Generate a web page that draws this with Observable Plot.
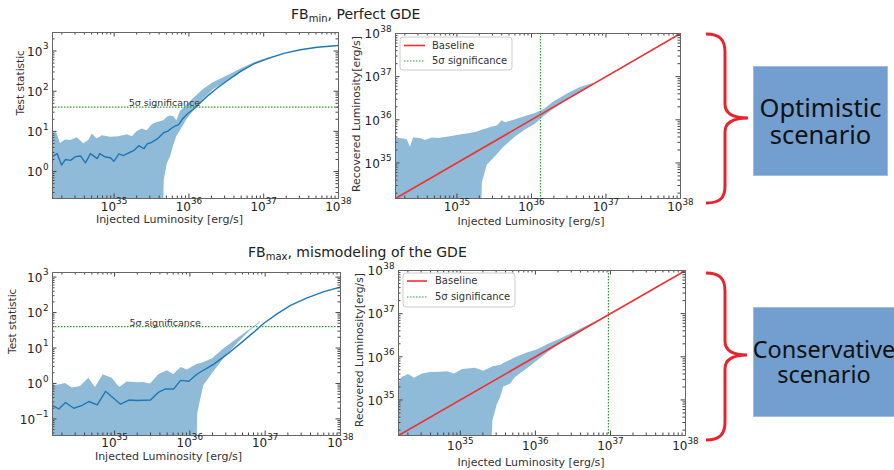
<!DOCTYPE html>
<html><head><meta charset="utf-8">
<script src="https://cdn.jsdelivr.net/npm/d3@7"></script>
<script src="https://cdn.jsdelivr.net/npm/@observablehq/plot@0.6"></script>
<style>
body{margin:0;background:#fff;}
#wrap{position:relative;width:894px;height:470px;overflow:hidden;font-family:"DejaVu Sans",sans-serif;color:#222;}
.panel{position:absolute;}
.title{position:absolute;font-size:14px;line-height:16px;white-space:nowrap;color:#222;}
.title sub{font-size:10px;vertical-align:-3px;line-height:0;}
.box{position:absolute;background:#729fcf;border:1px solid #9ebde2;box-sizing:border-box;display:flex;align-items:center;justify-content:center;text-align:center;font-family:"Noto Sans",sans-serif;line-height:26px;color:#111;white-space:nowrap;}
#overlay{position:absolute;left:0;top:0;}
</style></head>
<body><div id="wrap">
<div class="title" style="left:291px;top:6px">FB<sub>min</sub>, Perfect GDE</div>
<div class="title" style="left:248px;top:244px">FB<sub>max</sub>, mismodeling of the GDE</div>
<div id="p1" class="panel" style="left:0;top:25px"></div>
<div id="p2" class="panel" style="left:345px;top:25px"></div>
<div id="p3" class="panel" style="left:0;top:262px"></div>
<div id="p4" class="panel" style="left:345px;top:262px"></div>
<svg id="overlay" width="894" height="470" font-family="DejaVu Sans" font-size="10">
  <path d="M706,34 C720,34 725,40 725,52 L725,104 C725,114 733,118 748,118 C733,118 725,122 725,132 L725,186 C725,198 720,203 706,203" fill="none" stroke="#e8232b" stroke-width="3"/>
  <path d="M706,273 C720,273 725,279 725,291 L725,341 C725,351 733,355 747,355 C733,355 725,359 725,369 L725,422 C725,434 720,440 706,440" fill="none" stroke="#e8232b" stroke-width="3"/>
  <text id="ylab2" transform="translate(357,114) rotate(-90)" text-anchor="middle" dominant-baseline="middle" font-size="10.8" fill="#333" textLength="156" lengthAdjust="spacingAndGlyphs"></text>
  <text id="ylab4" transform="translate(360,350) rotate(-90)" text-anchor="middle" dominant-baseline="middle" font-size="10.8" fill="#333" textLength="154" lengthAdjust="spacingAndGlyphs"></text>
  <g>
    <rect x="400" y="37" width="112" height="33" rx="3" fill="#fff" stroke="#ccc"/>
    <line x1="404" x2="425" y1="45.5" y2="45.5" stroke="#f03030" stroke-width="1.6"/>
    <text x="432" y="45.5" dominant-baseline="middle" fill="#333">Baseline</text>
    <line x1="404" x2="425" y1="61" y2="61" stroke="#2ca02c" stroke-width="1.2" stroke-dasharray="1.5,1.5"/>
    <text x="432" y="61" dominant-baseline="middle" fill="#333">5σ significance</text>
  </g>
  <g>
    <rect x="403" y="273" width="112" height="34" rx="3" fill="#fff" stroke="#ccc"/>
    <line x1="407" x2="427" y1="281" y2="281" stroke="#f03030" stroke-width="1.6"/>
    <text x="435" y="281" dominant-baseline="middle" fill="#333">Baseline</text>
    <line x1="407" x2="427" y1="297" y2="297" stroke="#2ca02c" stroke-width="1.2" stroke-dasharray="1.5,1.5"/>
    <text x="435" y="297" dominant-baseline="middle" fill="#333">5σ significance</text>
  </g>
</svg>
<div class="box" style="left:753px;top:66px;width:135px;height:110px;font-size:25.5px;line-height:27px">Optimistic<br>scenario</div>
<div class="box" style="left:753px;top:307px;width:142px;height:110px;font-size:23.5px;line-height:25px">Conservative<br>scenario</div>
</div>
<script>
// ---------- shared ----------
const lumDomain = [1.5e34, 1e38];
const lumTicks = [1e35, 1e36, 1e37, 1e38];
const tsTicksTop = [1, 10, 100, 1000];
const tsTicksBottom = [0.1, 1, 10, 100, 1000];
const tsDomainTop = [0.214, 2880];
const tsDomainBottom = [0.034, 1350];
const xLabel = "Injected Luminosity [erg/s]";
const tsLabel = "Test statistic";
const recLabel = "Recovered Luminosity[erg/s]";
const sigLabel = "5σ significance";
const tsThreshold = 40;
const sigLumTop = 1.32e36;
const sigLumBottom = 9.4e36;
const sigTextLum = 4.7e35;

// ---------- panel 1: FBmin test statistic ----------
const p1LineL = [1.5e34, 1.73e34, 1.98e34, 2.24e34, 2.61e34, 3.04e34, 3.55e34, 4.14e34, 4.83e34, 5.94e34, 6.43e34, 7.67e34, 8.95e34, 9.91e34, 1.16e35, 1.33e35, 1.56e35, 1.82e35, 2.14e35, 2.5e35, 2.77e35, 3.16e35, 3.77e35, 4.62e35, 5.17e35, 5.68e35, 6.62e35, 7.26e35, 8.13e35, 9.48e35, 1.16e36, 1.43e36, 1.85e36, 2.39e36, 3.25e36, 4.9e36, 7.38e36, 1.11e37, 1.86e37, 3.1e37, 5.19e37, 1e38];
const p1LineTS = [2.4, 2.8, 1.45, 2.0, 1.9, 2.35, 2.45, 1.65, 2.8, 2.1, 2.8, 2.3, 2.2, 1.8, 2.75, 2.5, 2.9, 3.3, 4.4, 3.7, 4.9, 5.3, 6.5, 9.4, 10, 11.5, 13.8, 14.5, 20, 27, 36, 52, 81, 120, 182, 310, 480, 640, 870, 1075, 1240, 1370];
const p1BandL = [1.5e34, 1.7e34, 1.92e34, 2.24e34, 2.61e34, 3.21e34, 3.93e34, 4.58e34, 5.09e34, 5.94e34, 6.93e34, 8.95e34, 1.16e35, 1.5e35, 1.75e35, 2.04e35, 2.37e35, 2.77e35, 3.23e35, 3.77e35, 4.44e35, 4.68e35, 5.13e35, 5.68e35, 6.28e35, 6.9e35, 7.71e35, 9.48e35, 1.22e36, 1.58e36, 2.15e36, 3.25e36, 4.9e36, 7.38e36, 9.93e36];
const p1BandHi = [8.6, 9.4, 5.0, 6.1, 5.9, 6.9, 4.9, 5.9, 8.6, 6.5, 7.8, 7.1, 7.4, 8.3, 7.4, 10, 11.5, 10.4, 14.7, 16.7, 17.8, 19, 22, 24, 23, 18.5, 31, 46, 72, 112, 165, 240, 350, 500, 610];
const p1BandLo = [0.01, 0.01, 0.01, 0.01, 0.01, 0.01, 0.01, 0.01, 0.01, 0.01, 0.01, 0.01, 0.01, 0.01, 0.01, 0.01, 0.01, 0.01, 0.01, 0.01, 0.01, 0.6, 1.55, 2.3, 4.5, 7.5, 10.4, 20, 36, 63, 110, 170, 280, 460, 600];

// ---------- panel 2: FBmin recovered luminosity ----------
const p2BandL = [1.5e34, 2.15e34, 2.38e34, 2.62e34, 3.24e34, 3.79e34, 4.66e34, 5.71e34, 7.78e34, 1.01e35, 1.37e35, 1.78e35, 2.07e35, 2.2e35, 2.55e35, 2.98e35, 3.48e35, 4.05e35, 4.49e35, 6.11e35, 8.32e35, 1.13e36, 1.47e36, 2.0e36, 3.0e36, 4.55e36, 6.8e36];
const p2BandHi = [3.8e35, 3.5e35, 2.3e35, 3.8e35, 3.7e35, 3.3e35, 3.8e35, 3.7e35, 4.0e35, 4.3e35, 4.7e35, 5.1e35, 5.5e35, 5.8e35, 6.2e35, 6.8e35, 7.2e35, 9.5e35, 8.5e35, 1.0e36, 1.2e36, 1.4e36, 1.7e36, 2.6e36, 3.9e36, 5.6e36, 7.0e36];
const p2BandLo = [1e33, 1e33, 1e33, 1e33, 1e33, 1e33, 1e33, 1e33, 1e33, 1e33, 1e33, 1e33, 1e33, 3.5e34, 8.9e34, 1.17e35, 1.55e35, 2.1e35, 2.5e35, 4.0e35, 5.8e35, 7.9e35, 1.17e36, 1.78e36, 2.75e36, 4.2e36, 6.8e36];

// ---------- panel 3: FBmax test statistic ----------
const p3LineL = [1.5e34, 1.82e34, 2.23e34, 2.88e34, 3.72e34, 4.55e34, 5.89e34, 7.59e34, 1.2e35, 1.55e35, 2.0e35, 3.0e35, 3.87e35, 4.74e35, 6.12e35, 7.52e35, 9.68e35, 1.25e36, 2.08e36, 3.13e36, 4.7e36, 7.06e36, 9.6e36, 1.44e37, 2.17e37, 3.61e37, 6.02e37, 1e38];
const p3LineTS = [0.24, 0.19, 0.29, 0.2, 0.24, 0.31, 0.25, 0.6, 0.26, 0.34, 0.33, 0.34, 0.57, 0.7, 0.7, 1.22, 1.15, 1.85, 3.5, 6.7, 13.5, 28, 50, 92, 160, 260, 390, 520];
const p3BandL = [1.5e34, 1.82e34, 2.23e34, 2.74e34, 3.53e34, 4.55e34, 5.58e34, 7.06e34, 9.3e34, 1.17e35, 1.47e35, 2.0e35, 2.42e35, 3.0e35, 3.87e35, 5.0e35, 6.12e35, 7.67e35, 9.22e35, 1.21e36, 1.27e36, 1.38e36, 1.53e36, 1.98e36, 2.82e36, 4.25e36, 6.38e36, 8.67e36];
const p3BandHi = [0.86, 0.9, 1.0, 0.74, 0.82, 1.4, 0.77, 1.76, 1.4, 0.77, 1.1, 1.05, 1.07, 0.96, 1.76, 2.3, 1.8, 2.8, 2.4, 3.3, 3.5, 3.6, 3.9, 4.9, 9.4, 18, 34, 55];
const p3BandLo = [0.001, 0.001, 0.001, 0.001, 0.001, 0.001, 0.001, 0.001, 0.001, 0.001, 0.001, 0.001, 0.001, 0.001, 0.001, 0.001, 0.001, 0.001, 0.001, 0.001, 0.137, 0.32, 0.86, 1.85, 4.9, 13, 31, 52];

// ---------- panel 4: FBmax recovered luminosity ----------
const p4BandL = [1.5e34, 1.68e34, 2.04e34, 2.45e34, 3.13e34, 4.0e34, 5.44e34, 6.74e34, 8.36e34, 1.07e35, 1.59e35, 2.06e35, 2.52e35, 2.71e35, 3.1e35, 3.43e35, 3.79e35, 4.66e35, 5.43e35, 6.67e35, 8.17e35, 1.07e36, 1.45e36, 2.16e36, 3.22e36, 4.9e36, 6.7e36];
const p4BandHi = [2.4e35, 3.3e35, 3.9e35, 3.2e35, 4.0e35, 4.3e35, 4.4e35, 4.5e35, 4.0e35, 5.1e35, 5.4e35, 4.6e35, 5.5e35, 5.9e35, 6.1e35, 6.3e35, 7.0e35, 8.3e35, 9.5e35, 1.1e36, 1.25e36, 1.45e36, 1.9e36, 2.6e36, 3.6e36, 5.2e36, 6.8e36];
const p4BandLo = [1e33, 1e33, 1e33, 1e33, 1e33, 1e33, 1e33, 1e33, 1e33, 1e33, 1e33, 1e33, 1e33, 3.2e34, 7.6e34, 1.12e35, 2.0e35, 2.3e35, 3.3e35, 4.3e35, 5.6e35, 8.1e35, 1.23e36, 2.0e36, 2.8e36, 4.6e36, 6.6e36];

// ---------- helpers ----------
const expStr = d => String(Math.round(Math.log10(d))).replace("-", "\u2212");
function minorTicks([lo, hi]) {
  const out = [];
  for (let e = Math.floor(Math.log10(lo)); e <= Math.ceil(Math.log10(hi)); e++)
    for (let k = 2; k <= 9; k++) { const v = k * Math.pow(10, e); if (v >= lo && v <= hi) out.push(v); }
  return out;
}
const zip = (xs, a, b) => xs.map((x, i) => ({x, a: a ? a[i] : undefined, b: b ? b[i] : undefined}));

const bandFill = "#8fbbd9", lineCol = "#1f77b4", green = "#2ca02c", red = "#f03030", tickCol = "#444", labCol = "#222";
const baseSize = 12, expSize = 8.8;
const expWidth = s => [...s].reduce((w, c) => w + (c === "\u2212" ? 0.838 : 0.636) * expSize, 0);

document.getElementById("ylab2").textContent = recLabel;
document.getElementById("ylab4").textContent = recLabel;

function panel(cfg) {
  const {width, height, m, yDomain, yTicks} = cfg;
  const innerW = width - m[1] - m[3], innerH = height - m[0] - m[2];
  const xMin = minorTicks(lumDomain), yMin = minorTicks(yDomain);
  const marks = [];
  marks.push(Plot.areaY(zip(cfg.bandL, cfg.bandLo, cfg.bandHi), {x: "x", y1: "a", y2: "b", fill: bandFill, clip: true}));
  if (cfg.lineL) marks.push(Plot.line(zip(cfg.lineL, cfg.lineV), {x: "x", y: "a", stroke: lineCol, strokeWidth: 1.4, clip: true}));
  if (cfg.hline) {
    marks.push(Plot.ruleY([cfg.hline], {y: d => d, stroke: green, strokeWidth: 1.2, strokeDasharray: "1.5,1.5"}));
    marks.push(Plot.text([sigLabel], {x: [sigTextLum], y: [cfg.hline], text: d => d, lineAnchor: "bottom", dy: -1, fontSize: 9.5, fill: "#333"}));
  }
  if (cfg.vline) marks.push(Plot.ruleX([cfg.vline], {x: d => d, stroke: green, strokeWidth: 1.2, strokeDasharray: "1.5,1.5"}));
  if (cfg.baseline) marks.push(Plot.line(lumDomain, {x: d => d, y: d => d, stroke: red, strokeWidth: 1.6, clip: true}));
  // inward ticks on all four sides
  marks.push(Plot.tickX(lumTicks, {x: d => d, insetTop: innerH - 4.5, stroke: tickCol}));
  marks.push(Plot.tickX(lumTicks, {x: d => d, insetBottom: innerH - 4.5, stroke: tickCol}));
  marks.push(Plot.tickX(xMin, {x: d => d, insetTop: innerH - 2.5, stroke: tickCol}));
  marks.push(Plot.tickX(xMin, {x: d => d, insetBottom: innerH - 2.5, stroke: tickCol}));
  marks.push(Plot.tickY(yTicks, {y: d => d, insetRight: innerW - 4.5, stroke: tickCol}));
  marks.push(Plot.tickY(yTicks, {y: d => d, insetLeft: innerW - 4.5, stroke: tickCol}));
  marks.push(Plot.tickY(yMin, {y: d => d, insetRight: innerW - 2.5, stroke: tickCol}));
  marks.push(Plot.tickY(yMin, {y: d => d, insetLeft: innerW - 2.5, stroke: tickCol}));
  marks.push(Plot.frame({stroke: "#666", strokeWidth: 1}));
  // x tick labels: "10" with a raised exponent
  marks.push(Plot.text(lumTicks, {x: d => d, frameAnchor: "bottom", text: () => "10", textAnchor: "end", dx: 2, dy: cfg.tickY, lineAnchor: "middle", fontSize: baseSize, fill: labCol}));
  marks.push(Plot.text(lumTicks, {x: d => d, frameAnchor: "bottom", text: expStr, textAnchor: "start", dx: 2, dy: cfg.tickY - 5.5, lineAnchor: "middle", fontSize: expSize, fill: labCol}));
  // y tick labels
  for (const v of yTicks) {
    const s = expStr(v);
    marks.push(Plot.text([v], {y: d => d, frameAnchor: "left", text: () => s, textAnchor: "end", dx: -4, dy: -4.5, lineAnchor: "middle", fontSize: expSize, fill: labCol}));
    marks.push(Plot.text([v], {y: d => d, frameAnchor: "left", text: () => "10", textAnchor: "end", dx: -4.5 - expWidth(s), dy: 1, lineAnchor: "middle", fontSize: baseSize, fill: labCol}));
  }
  marks.push(Plot.text([xLabel], {frameAnchor: "bottom", text: d => d, dx: cfg.xlab[0], dy: cfg.xlab[1], lineAnchor: "middle", fontSize: 11, fill: "#333"}));
  if (cfg.yLabel) marks.push(Plot.text([cfg.yLabel], {frameAnchor: "left", text: d => d, rotate: -90, dx: cfg.ylabDx, lineAnchor: "middle", fontSize: cfg.ylabSize, fill: "#333"}));
  const svg = Plot.plot({
    width, height, marginTop: m[0], marginRight: m[1], marginBottom: m[2], marginLeft: m[3],
    x: {type: "log", domain: lumDomain, axis: null},
    y: {type: "log", domain: yDomain, axis: null},
    style: {background: "transparent", overflow: "visible", fontFamily: "DejaVu Sans"},
    marks
  });
  document.getElementById(cfg.id).append(svg);
}

panel({id: "p1", width: 350, height: 205, m: [7, 12, 32, 52], yDomain: tsDomainTop, yTicks: tsTicksTop,
  bandL: p1BandL, bandLo: p1BandLo, bandHi: p1BandHi, lineL: p1LineL, lineV: p1LineTS, hline: tsThreshold,
  yLabel: tsLabel, ylabDx: -32, ylabSize: 10.5, xlab: [-26, 21], tickY: 8.5});
panel({id: "p2", width: 350, height: 205, m: [8, 15, 32, 50], yDomain: lumDomain, yTicks: lumTicks,
  bandL: p2BandL, bandLo: p2BandLo, bandHi: p2BandHi, vline: sigLumTop, baseline: true,
  xlab: [-7, 22.5], tickY: 9});
panel({id: "p3", width: 350, height: 208, m: [10, 10, 35, 52], yDomain: tsDomainBottom, yTicks: tsTicksBottom,
  bandL: p3BandL, bandLo: p3BandLo, bandHi: p3BandHi, lineL: p3LineL, lineV: p3LineTS, hline: tsThreshold,
  yLabel: tsLabel, ylabDx: -39.5, ylabSize: 10.5, xlab: [-28, 20.5], tickY: 7.5});
panel({id: "p4", width: 350, height: 208, m: [8, 10, 35, 53], yDomain: lumDomain, yTicks: lumTicks,
  bandL: p4BandL, bandLo: p4BandLo, bandHi: p4BandHi, vline: sigLumBottom, baseline: true,
  xlab: [-11, 27], tickY: 11});
</script>
</body></html>
